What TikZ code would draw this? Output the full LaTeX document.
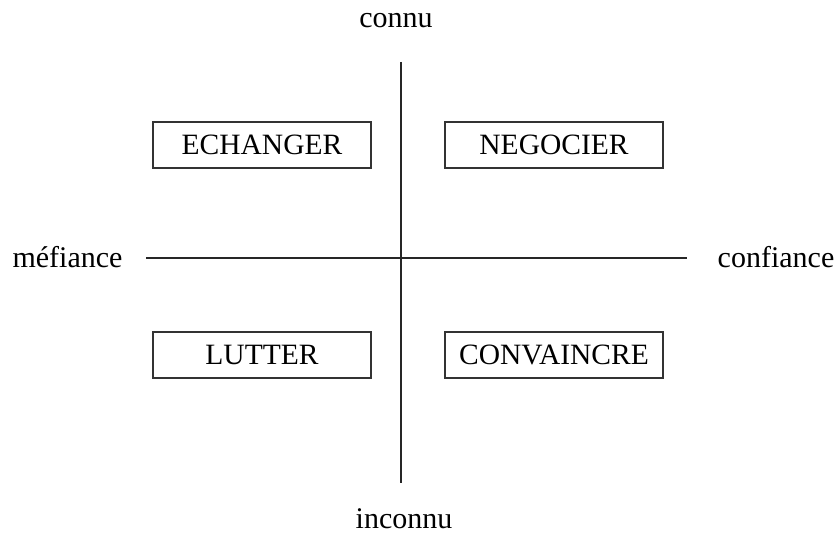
\documentclass[tikz,border=0pt]{standalone}
\usepackage{fontspec}
\setmainfont{Liberation Serif}
\begin{document}
\begin{tikzpicture}[x=1pt,y=-1pt,
  lbl/.style={inner sep=0pt,anchor=base,font=\fontsize{30}{32}\selectfont},
  box/.style={draw=black!80,line width=1.2pt,minimum width=218pt,minimum height=46pt,inner sep=0pt,font=\fontsize{29.5}{32}\selectfont},
  axis/.style={draw=black!85,line width=1.4pt}]
\useasboundingbox (0,0) rectangle (835,535);
\coordinate (vt) at (401,62);
\coordinate (vb) at (401,483);
\coordinate (hl) at (146,258);
\coordinate (hr) at (687,258);
\draw[axis] (vt) -- (vb);
\draw[axis] (hl) -- (hr);
\node[lbl] (connu) at (396,28) {connu};
\node[lbl] (inconnu) at (404,528) {inconnu};
\node[lbl] (mef) at (67.5,267) {méfiance};
\node[lbl] (conf) at (776,267) {confiance};
\node[box] (ech) at (262,145) {ECHANGER};
\node[box] (neg) at (554,145) {NEGOCIER};
\node[box] (lut) at (262,355) {LUTTER};
\node[box] (con) at (554,355) {CONVAINCRE};
\end{tikzpicture}
\end{document}
